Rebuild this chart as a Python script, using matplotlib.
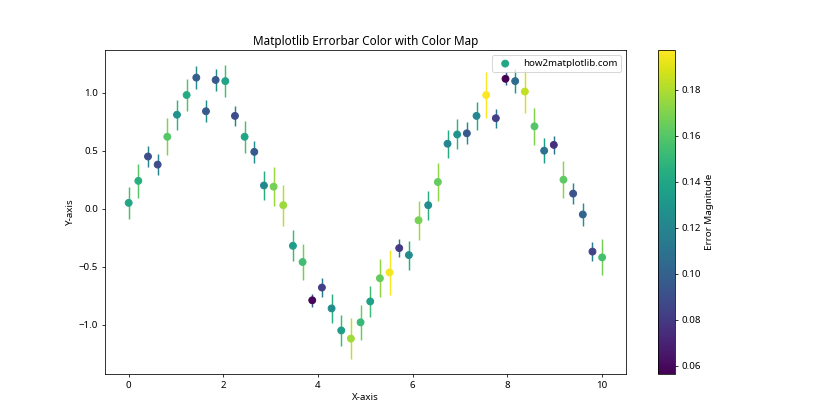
import matplotlib
matplotlib.use("Agg")
import matplotlib.pyplot as plt
import numpy as np

plt.rcParams['font.family'] = ['Noto Sans', 'DejaVu Sans']

x = np.linspace(0, 10, 50)
y = np.array([0.05, 0.24, 0.45, 0.38, 0.62, 0.81, 0.98, 1.13, 0.84, 1.11,
              1.10, 0.80, 0.62, 0.49, 0.20, 0.19, 0.03, -0.32, -0.46, -0.79,
              -0.68, -0.86, -1.05, -1.12, -0.98, -0.80, -0.60, -0.55, -0.34, -0.40,
              -0.10, 0.03, 0.23, 0.56, 0.64, 0.65, 0.80, 0.98, 0.78, 1.12,
              1.10, 1.01, 0.71, 0.50, 0.55, 0.25, 0.13, -0.05, -0.37, -0.42])
yerr = np.array([0.140, 0.145, 0.090, 0.089, 0.160, 0.129, 0.142, 0.098, 0.095, 0.095,
                 0.138, 0.089, 0.139, 0.096, 0.122, 0.167, 0.176, 0.134, 0.154, 0.058,
                 0.083, 0.125, 0.134, 0.177, 0.151, 0.136, 0.164, 0.195, 0.080, 0.125,
                 0.168, 0.125, 0.164, 0.121, 0.129, 0.095, 0.121, 0.197, 0.083, 0.0566,
                 0.105, 0.184, 0.159, 0.109, 0.076, 0.162, 0.092, 0.102, 0.085, 0.155])

fig = plt.figure(figsize=(12, 6), dpi=70)
colors = plt.cm.viridis(yerr / yerr.max())
plt.errorbar(x, y, yerr=yerr, fmt='none', ecolor=colors)
sc = plt.scatter(x, y, c=yerr, cmap='viridis', s=50, zorder=3, label='how2matplotlib.com')
cbar = plt.colorbar(sc)
cbar.set_label('Error Magnitude')
plt.title('Matplotlib Errorbar Color with Color Map')
plt.xlabel('X-axis')
plt.ylabel('Y-axis')
plt.legend(loc='upper right')
plt.savefig('out.png', dpi=70)
